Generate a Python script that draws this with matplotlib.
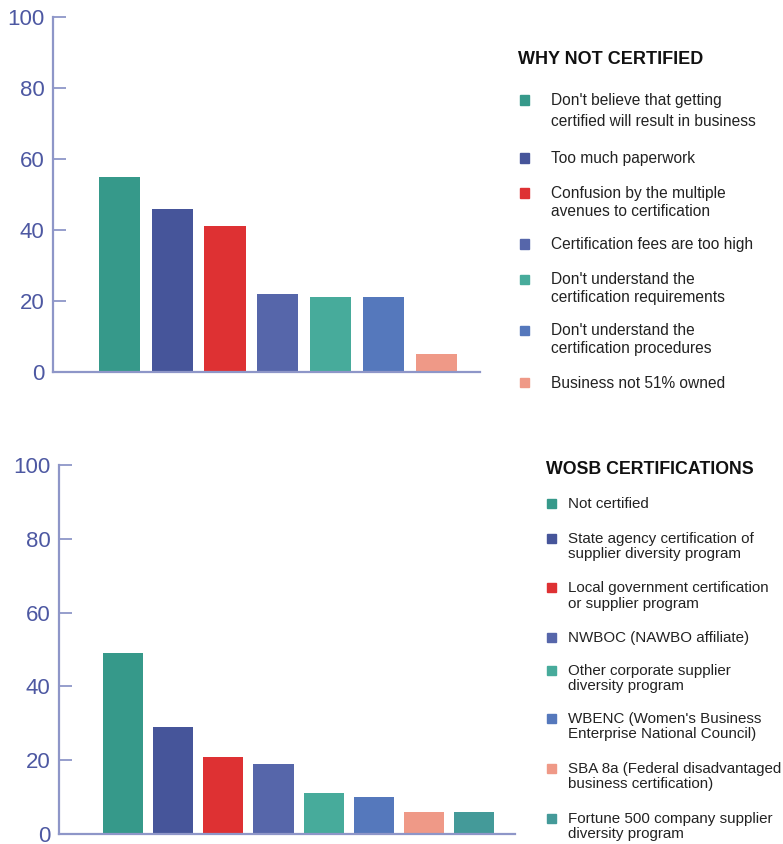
import matplotlib.pyplot as plt
from matplotlib.patches import Rectangle

plt.rcParams['font.family'] = ['Liberation Sans', 'DejaVu Sans']

# DATA
why_labels = ["Don't believe that getting\ncertified will result in business",
              "Too much paperwork",
              "Confusion by the multiple\navenues to certification",
              "Certification fees are too high",
              "Don't understand the\ncertification requirements",
              "Don't understand the\ncertification procedures",
              "Business not 51% owned"]
why_values = [55, 46, 41, 22, 21, 21, 5]
why_colors = ['#36998A', '#46559A', '#DE3133', '#5666AA', '#47AB9B', '#5578BC', '#EF9987']

wosb_labels = ["Not certified",
               "State agency certification of\nsupplier diversity program",
               "Local government certification\nor supplier program",
               "NWBOC (NAWBO affiliate)",
               "Other corporate supplier\ndiversity program",
               "WBENC (Women's Business\nEnterprise National Council)",
               "SBA 8a (Federal disadvantaged\nbusiness certification)",
               "Fortune 500 company supplier\ndiversity program"]
wosb_values = [49, 29, 21, 19, 11, 10, 6, 6]
wosb_colors = ['#36998A', '#46559A', '#DE3133', '#5666AA', '#47AB9B', '#5578BC', '#EF9987', '#449A99']

yticks = [0, 20, 40, 60, 80, 100]

# LAYOUT (pixels)
W, H = 783, 844
axis_col = '#8E96C8'
label_col = '#4D58A2'
text_col = '#222222'

fig = plt.figure(figsize=(W / 100, H / 100), dpi=100)


def px_axes(left, right, top, bottom):
    return fig.add_axes([left / W, 1 - bottom / H, (right - left) / W, (bottom - top) / H])


def style_axes(ax, xlim, width, values, colors):
    ax.bar(range(len(values)), values, width=width, color=colors, edgecolor='none')
    ax.set_xlim(*xlim)
    ax.set_ylim(0, 100)
    ax.set_yticks(yticks)
    ax.set_xticks([])
    for s in ['top', 'right']:
        ax.spines[s].set_visible(False)
    for s in ['left', 'bottom']:
        ax.spines[s].set_color(axis_col)
        ax.spines[s].set_linewidth(1.6)
    ax.tick_params(axis='y', direction='in', length=9, width=1.3, color=axis_col,
                   labelcolor=label_col, labelsize=16, pad=6)


# top chart
ax1 = px_axes(53, 480, 17, 372)
style_axes(ax1, (-1.26, 6.83), 0.78, why_values, why_colors)
ax1.yaxis.get_major_ticks()[-1].tick1line.set_color('#333333')

# bottom chart
ax2 = px_axes(59, 515, 465, 834)
style_axes(ax2, (-1.28, 7.82), 0.8, wosb_values, wosb_colors)


def legend(title, title_xy, labels, colors, mark_x, text_x, line_ys, fs, tfs):
    fig.text(title_xy[0] / W, 1 - title_xy[1] / H, title, fontsize=tfs, fontweight='bold',
             color='#111111', ha='left', va='center')
    for lab, col, ys in zip(labels, colors, line_ys):
        fig.patches.append(Rectangle((mark_x / W, 1 - (ys[0] + 4.5) / H), 9 / W, 9 / H,
                                     transform=fig.transFigure, color=col, figure=fig))
        for line, y in zip(lab.split('\n'), ys):
            fig.text(text_x / W, 1 - (y + 5) / H, line, fontsize=fs, color=text_col,
                     ha='left', va='baseline')


top_line_ys = [(100, 121), (158,), (193, 211), (244,), (279, 297), (330, 348), (383,)]
legend('WHY NOT CERTIFIED', (518, 60), why_labels, why_colors, 520, 551, top_line_ys, 11.2, 13)

bot_line_ys = [(503,), (538, 553), (587, 603), (637,), (670, 685), (718, 733), (768, 783), (818, 833)]
legend('WOSB CERTIFICATIONS', (546, 470), wosb_labels, wosb_colors, 547, 568, bot_line_ys, 10.9, 12.8)

fig.savefig('out.png', dpi=100)
